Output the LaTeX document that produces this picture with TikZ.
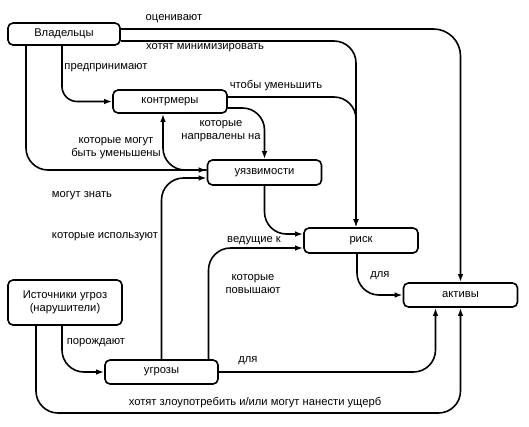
\documentclass[tikz,border=0pt]{standalone}
\usepackage{fontspec}
\setmainfont{Liberation Sans}
\usetikzlibrary{arrows.meta}

\tikzset{
  box/.style={draw, line width=1.6pt, rounded corners=5pt, minimum width=114pt,
              minimum height=24pt, inner sep=0pt, align=center,
              font=\fontsize{11.2}{13}\selectfont},
  lbl/.style={inner sep=1pt, align=center, font=\fontsize{11.2}{12.5}\selectfont},
  link/.style={line width=1.6pt, rounded corners=22pt,
               -{Latex[length=8pt,width=5.5pt]}},
}

\begin{document}
\begin{tikzpicture}[x=1pt, y=-1pt]

  \useasboundingbox (0,0) rectangle (529,426);

  % ========== узлы ==========
  \node[box, minimum width=112pt, minimum height=22pt] (own) at (64,34) {Владельцы};
  \node[box, minimum height=23pt] (cm)   at (170,101.5) {контрмеры};
  \node[box, minimum height=25pt] (vul)  at (264.5,172.5) {уязвимости};
  \node[box, minimum height=25pt] (risk) at (361,240.5) {риск};
  \node[box] (ast)  at (460.5,295) {активы};
  \node[box, minimum height=45pt] (src)  at (65,302.5) {Источники угроз\\(нарушители)};
  \node[box, minimum width=113pt] (thr)  at (161.5,372) {угрозы};

  \coordinate (bot) at (250,413);

  % ========== связи владельцев ==========
  \draw[link, rounded corners=27pt] ([yshift=5pt]own.east) -| (ast.north);
  \draw[link] ([yshift=-7pt]own.east) -| ([xshift=-5pt]risk.north);
  \draw[link, rounded corners=15pt] ([xshift=-2pt]own.south) |- (cm.west);
  \draw[link] ([xshift=-38pt]own.south) |- ([yshift=2.5pt]vul.west);

  % ========== контрмеры и уязвимости ==========
  \draw[link] ([yshift=4.5pt]cm.east) -| ([xshift=-5pt]risk.north);
  \draw[link] ([yshift=-6.5pt]cm.east) -| (vul.north);
  \draw[link] ([yshift=2.5pt]vul.west) -| ([xshift=-7pt]cm.south);
  \draw[link] (vul.south) |- ([yshift=6.5pt]risk.west);
  \draw[link] ([xshift=-4pt]risk.south) |- (ast.west);

  % ========== угрозы ==========
  \draw[link] (thr.north) |- ([yshift=-5.5pt]vul.west);
  \draw[link] ([xshift=47pt]thr.north) |- ([yshift=-7.5pt]risk.west);
  \draw[link] (thr.east) -| ([xshift=-25pt]ast.south);
  \draw[link] ([xshift=-3pt]src.south) |- (thr.west);
  \draw[link] ([xshift=-29pt]src.south) |- (bot) -| (ast.south);

  % ========== подписи ==========
  \node[lbl] (l1)  at (174,19)  {оценивают};
  \node[lbl] (l2)  at (205,48)  {хотят минимизировать};
  \node[lbl] (l3)  at (106,68)  {предпринимают};
  \node[lbl] (l4)  at (276,86)  {чтобы уменьшить};
  \node[lbl] (l5)  at (221,131) {которые\\напрвалены на};
  \node[lbl] (l6)  at (116,148) {которые могут\\быть уменьшены};
  \node[lbl] (l7)  at (82,196)  {могут знать};
  \node[lbl] (l8)  at (105,237) {которые используют};
  \node[lbl] (l9)  at (254,241) {ведущие к};
  \node[lbl] (l10) at (253,284) {которые\\повышают};
  \node[lbl] (l11) at (380,276) {для};
  \node[lbl] (l12) at (248,361) {для};
  \node[lbl] (l13) at (96,343)  {порождают};
  \node[lbl] (l14) at (255,403) {хотят злоупотребить и/или могут нанести ущерб};

\end{tikzpicture}
\end{document}
